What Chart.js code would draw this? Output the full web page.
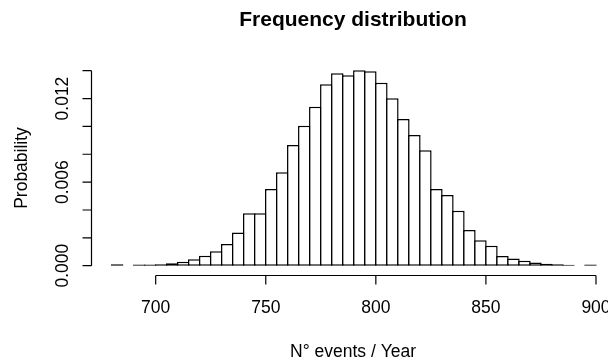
<!DOCTYPE html>
<html>
<head>
<meta charset="utf-8">
<script src="https://cdn.jsdelivr.net/npm/chart.js@4"></script>
<style>
  html, body { margin: 0; padding: 0; background: #fff; }
  #wrap { width: 608px; height: 361px; }
</style>
</head>
<body>
<div id="wrap"><canvas id="c" width="608" height="361"></canvas></div>
<script>
// ---- data ----
const binStarts = [680, 685, 690, 695, 700, 705, 710, 715, 720, 725, 730, 735,
                   740, 745, 750, 755, 760, 765, 770, 775, 780, 785, 790, 795,
                   800, 805, 810, 815, 820, 825, 830, 835, 840, 845, 850, 855,
                   860, 865, 870, 875, 880, 885, 890, 895];
const binWidth = 5;
const probabilities = [0.0001, 0, 0.00008, 0.00008, 0.0001, 0.00017, 0.00029, 0.00046, 0.00072, 0.00103, 0.00156, 0.00238,
                       0.00376, 0.00376, 0.00551, 0.00671, 0.00867, 0.01005, 0.01141, 0.01302, 0.01381, 0.01367, 0.01403, 0.01396,
                       0.01314, 0.01202, 0.01053, 0.00938, 0.00828, 0.00551, 0.00508, 0.00395, 0.00256, 0.00182, 0.00144, 0.0007,
                       0.00052, 0.00036, 0.00023, 0.00014, 0.00011, 0.00006, 0, 0.00008];
const xTicks = [700, 750, 800, 850, 900];
const xTickLabels = ['700', '750', '800', '850', '900'];
const yTicks = [0, 0.002, 0.004, 0.006, 0.008, 0.010, 0.012, 0.014];
const yTickLabels = ['0.000', '', '', '0.006', '', '', '0.012', ''];
const titleText = 'Frequency distribution';
const xTitle = 'N\u00B0 events / Year';
const yTitle = 'Probability';

const FONT = '"Liberation Sans", Arial, sans-serif';

const rAxes = {
  id: 'rAxes',
  afterDraw(chart) {
    const ctx = chart.ctx;
    const xs = chart.scales.x, ys = chart.scales.y;
    ctx.save();
    ctx.strokeStyle = '#000';
    ctx.fillStyle = '#000';
    ctx.lineWidth = 1.2;

    // y axis
    const ax = Math.round(xs.left) - 0.5;
    ctx.beginPath();
    ctx.moveTo(ax, ys.getPixelForValue(yTicks[0]));
    ctx.lineTo(ax, ys.getPixelForValue(yTicks[yTicks.length - 1]));
    yTicks.forEach(v => {
      const y = ys.getPixelForValue(v);
      ctx.moveTo(ax - 9, y);
      ctx.lineTo(ax, y);
    });
    ctx.stroke();

    // x axis
    const ay = Math.round(ys.bottom) + 0.5;
    ctx.beginPath();
    ctx.moveTo(xs.getPixelForValue(xTicks[0]), ay);
    ctx.lineTo(xs.getPixelForValue(xTicks[xTicks.length - 1]), ay);
    xTicks.forEach(v => {
      const x = xs.getPixelForValue(v);
      ctx.moveTo(x, ay);
      ctx.lineTo(x, ay + 9);
    });
    ctx.stroke();

    // tick labels
    ctx.font = '17.5px ' + FONT;
    ctx.textAlign = 'center';
    ctx.textBaseline = 'alphabetic';
    xTicks.forEach((v, i) => {
      ctx.fillText(xTickLabels[i], xs.getPixelForValue(v), 313);
    });
    yTicks.forEach((v, i) => {
      if (!yTickLabels[i]) return;
      ctx.save();
      ctx.translate(68, ys.getPixelForValue(v));
      ctx.rotate(-Math.PI / 2);
      ctx.fillText(yTickLabels[i], 0, 0);
      ctx.restore();
    });

    // axis titles
    ctx.fillText(xTitle, 353, 357);
    ctx.save();
    ctx.translate(27, 168);
    ctx.rotate(-Math.PI / 2);
    ctx.fillText(yTitle, 0, 0);
    ctx.restore();

    // main title
    ctx.font = 'bold 21px ' + FONT;
    ctx.fillText(titleText, 353, 26);
    ctx.restore();
  }
};

new Chart(document.getElementById('c'), {
  type: 'bar',
  data: {
    datasets: [{
      data: binStarts.map((b, i) => ({ x: b + binWidth / 2, y: probabilities[i] })),
      backgroundColor: '#ffffff',
      borderColor: '#000000',
      borderWidth: 1.5,
      borderSkipped: false,
      barPercentage: 1.1363,
      categoryPercentage: 1
    }]
  },
  options: {
    responsive: false,
    animation: false,
    devicePixelRatio: 1,
    layout: { padding: { left: 92, right: 0, top: 62, bottom: 86 } },
    scales: {
      x: {
        type: 'linear', min: 671.07, max: 905.46, offset: false, display: false,
        afterBuildTicks(scale) { scale.ticks = xTicks.map(v => ({ value: v })); }
      },
      y: { type: 'linear', min: -0.000668, max: 0.014624, display: false }
    },
    plugins: { legend: { display: false }, tooltip: { enabled: false }, title: { display: false } }
  },
  plugins: [rAxes]
});
</script>
</body>
</html>
